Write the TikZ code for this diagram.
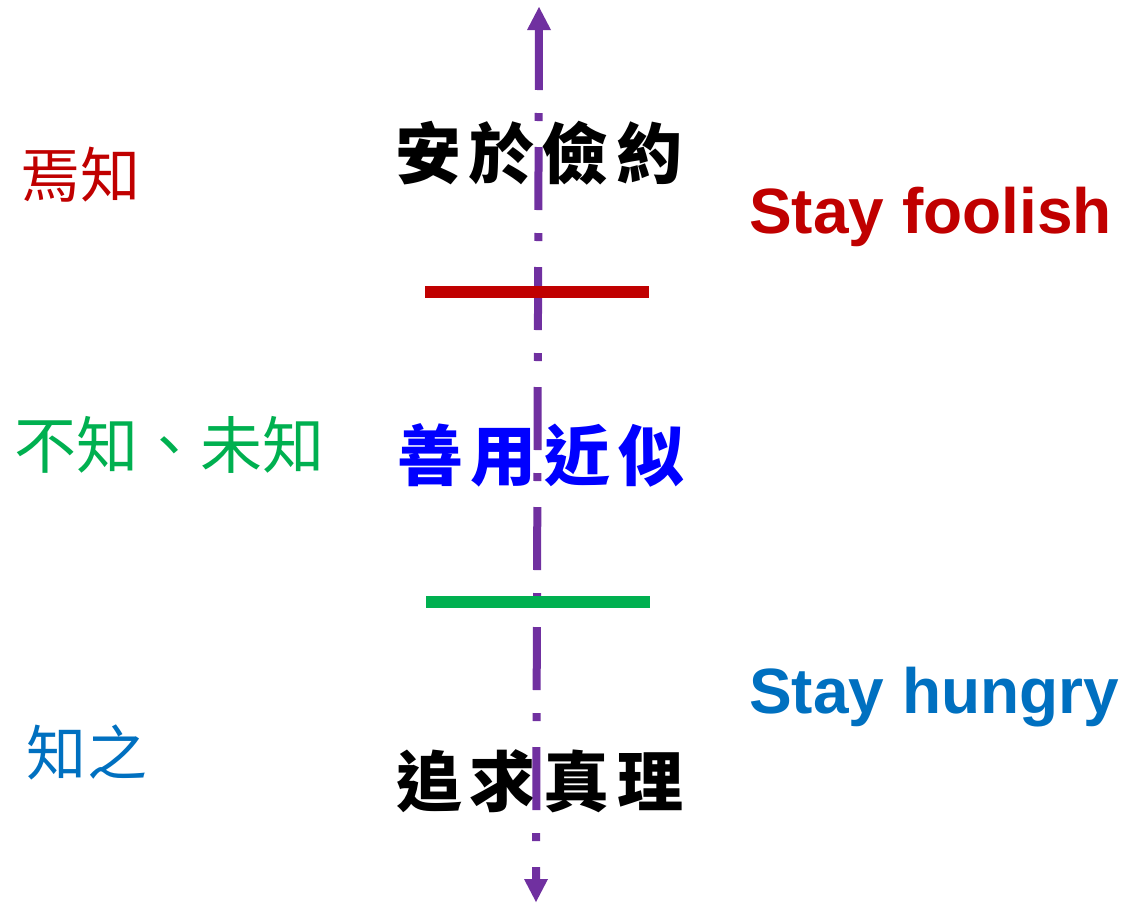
\documentclass[tikz,border=0pt]{standalone}
\usepackage{fontspec}
\setmainfont{Liberation Sans}
\newfontfamily\cjk{Noto Sans CJK TC}
\definecolor{cpurple}{HTML}{7030A0}
\definecolor{cred}{HTML}{C00000}
\definecolor{cgreen}{HTML}{00B050}
\definecolor{cblue}{HTML}{0000FF}
\definecolor{cblueb}{HTML}{0070C0}
\newcommand{\gp}{\hspace{8pt}}
\tikzset{
  centerlbl/.style={inner sep=0pt, font=\cjk\bfseries\fontsize{66}{76}\selectfont},
  sidelbl/.style={inner sep=0pt, font=\cjk\fontsize{60}{66}\selectfont},
  englbl/.style={inner sep=0pt, anchor=base west, font=\bfseries\fontsize{64}{70}\selectfont},
  axisline/.style={cpurple, line width=8pt, dash pattern=on 63pt off 23pt on 8pt off 26pt},
  bar/.style={line width=12pt}
}
\begin{document}
\begin{tikzpicture}[x=1pt,y=-1pt]
\useasboundingbox[fill=white] (0,0) rectangle (1123,906);
% texts
\node[centerlbl, text=black] (t1) at (539,153) {安\gp 於\gp 儉\gp 約};
\node[centerlbl, text=cblue] (t2) at (541,455) {善\gp 用\gp 近\gp 似};
\node[centerlbl, text=black] (t3) at (540,781) {追\gp 求\gp 真\gp 理};
\node[sidelbl, text=cred] (l1) at (80,175) {焉知};
\node[sidelbl, text=cgreen, font=\cjk\fontsize{62}{66}\selectfont] (l2) at (169,445) {不知、未知};
\node[sidelbl, text=cblueb] (l3) at (87,752) {知之};
\node[englbl, text=cred] (e1) at (749,233) {Stay foolish};
\node[englbl, text=cblueb] (e2) at (749,713) {Stay hungry};
% vertical axis
\coordinate (ttip) at (539,7);
\coordinate (ts) at (539,27);
\coordinate (bs) at (536,879);
\coordinate (btip) at (536,902);
\draw[axisline] (ts) -- (bs);
\fill[cpurple] (ttip) -- ([xshift=12pt]539,30) -- ([xshift=-12pt]539,30) -- cycle;
\fill[cpurple] (btip) -- ([xshift=12pt]536,879) -- ([xshift=-12pt]536,879) -- cycle;
% bars
\coordinate (r1) at (425,292);
\coordinate (r2) at (649,292);
\draw[bar, cred] (r1) -- (r2);
\coordinate (g1) at (426,602);
\coordinate (g2) at (650,602);
\draw[bar, cgreen] (g1) -- (g2);
\end{tikzpicture}
\end{document}
